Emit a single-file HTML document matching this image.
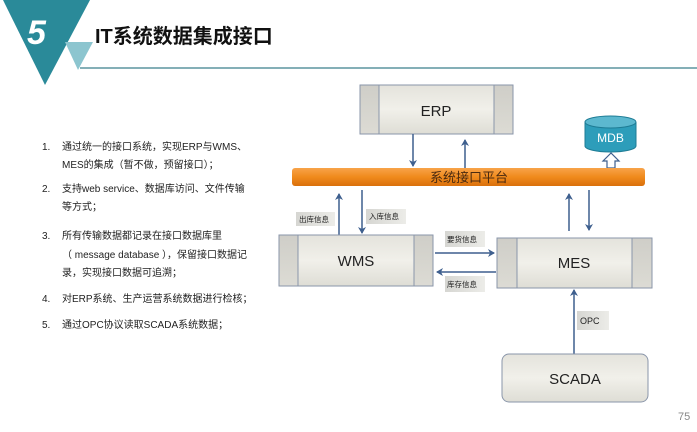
<!DOCTYPE html>
<html><head><meta charset="utf-8"><style>
html,body{margin:0;padding:0;background:#fff;}
svg text{font-family:"Liberation Sans","Noto Sans CJK SC",sans-serif;}
</style></head><body>
<svg width="697" height="427" viewBox="0 0 697 427" xmlns="http://www.w3.org/2000/svg">
<defs>
<linearGradient id="box" x1="0" y1="0" x2="0" y2="1"><stop offset="0" stop-color="#e4e3dc"/><stop offset="0.5" stop-color="#f1f0ea"/><stop offset="1" stop-color="#deddd5"/></linearGradient>
<linearGradient id="side" x1="0" y1="0" x2="0" y2="1"><stop offset="0" stop-color="#cfcec8"/><stop offset="1" stop-color="#dcdbd4"/></linearGradient>
<linearGradient id="bar" x1="0" y1="0" x2="0" y2="1"><stop offset="0" stop-color="#f8a34a"/><stop offset="0.5" stop-color="#f08a1c"/><stop offset="1" stop-color="#d9700c"/></linearGradient>
<linearGradient id="lbl" x1="0" y1="0" x2="1" y2="0"><stop offset="0" stop-color="#d6d6d2"/><stop offset="1" stop-color="#ecece8"/></linearGradient>
<marker id="ah" markerWidth="8" markerHeight="8" refX="6" refY="4" orient="auto" markerUnits="userSpaceOnUse"><path d="M0,0 L7,4 L0,8 L2,4 z" fill="#3e5f8e"/></marker>
</defs>
<polygon points="3,0 90,0 45,85" fill="#2a8a99"/>
<polygon points="65,42 93,42 78,70" fill="#8cc5cf"/>
<line x1="80" y1="68" x2="697" y2="68" stroke="#3a7f8c" stroke-width="1.2"/>
<text x="27" y="44" font-size="34" font-weight="bold" font-style="italic" fill="#fff">5</text>
<text x="95" y="43" font-size="20" font-weight="bold" fill="#111">IT系统数据集成接口</text>
<g font-size="10" fill="#222">
<text x="42" y="150">1.</text><text x="62" y="150">通过统一的接口系统，实现ERP与WMS、</text>
<text x="62" y="168">MES的集成（暂不做，预留接口）；</text>
<text x="42" y="192">2.</text><text x="62" y="192">支持web service、数据库访问、文件传输</text>
<text x="62" y="210">等方式；</text>
<text x="42" y="239">3.</text><text x="62" y="239">所有传输数据都记录在接口数据库里</text>
<text x="62" y="258">（ message database ），保留接口数据记</text>
<text x="62" y="276">录，实现接口数据可追溯；</text>
<text x="42" y="302">4.</text><text x="62" y="302">对ERP系统、生产运营系统数据进行检核；</text>
<text x="42" y="328">5.</text><text x="62" y="328">通过OPC协议读取SCADA系统数据；</text>
</g>
<rect x="360" y="85" width="153" height="49" fill="url(#box)" stroke="#8a96aa"/>
<rect x="360.5" y="85.5" width="18.5" height="48" fill="url(#side)"/>
<rect x="494" y="85.5" width="18.5" height="48" fill="url(#side)"/>
<line x1="379" y1="85" x2="379" y2="134" stroke="#8a96aa"/><line x1="494" y1="85" x2="494" y2="134" stroke="#8a96aa"/>
<text x="436" y="116" font-size="15" text-anchor="middle" fill="#222">ERP</text>
<path d="M585,122 L585,146 A25.5,6 0 0 0 636,146 L636,122" fill="#2d9dba" stroke="#1e7c95"/>
<ellipse cx="610.5" cy="122" rx="25.5" ry="6" fill="#5cb8cf" stroke="#1e7c95"/>
<text x="610.5" y="142" font-size="12" text-anchor="middle" fill="#fff">MDB</text>
<polygon points="611,153 603,161 607,161 607,168 615,168 615,161 619,161" fill="#fff" stroke="#3e5f8e" stroke-width="1.2"/>
<rect x="292" y="168" width="353" height="18" rx="3" fill="url(#bar)"/>
<text x="469" y="182" font-size="13" text-anchor="middle" fill="#4a2a10">系统接口平台</text>
<g stroke="#3e5f8e" stroke-width="1.5" marker-end="url(#ah)">
<line x1="413" y1="134" x2="413" y2="166"/>
<line x1="465" y1="168" x2="465" y2="140"/>
<line x1="339" y1="235" x2="339" y2="194"/>
<line x1="362" y1="190" x2="362" y2="233"/>
<line x1="569" y1="231" x2="569" y2="194"/>
<line x1="589" y1="190" x2="589" y2="230"/>
<line x1="435" y1="253" x2="494" y2="253"/>
<line x1="496" y1="272" x2="437" y2="272"/>
<line x1="574" y1="354" x2="574" y2="290"/>
</g>
<g font-size="7.5" fill="#222">
<rect x="296" y="212" width="39" height="14" fill="url(#lbl)"/><text x="299" y="222">出库信息</text>
<rect x="366" y="209" width="40" height="15" fill="url(#lbl)"/><text x="369" y="219">入库信息</text>
<rect x="445" y="231" width="40" height="16" fill="url(#lbl)"/><text x="447" y="242">要货信息</text>
<rect x="445" y="276" width="40" height="16" fill="url(#lbl)"/><text x="447" y="287">库存信息</text>
<rect x="577" y="311" width="32" height="19" fill="url(#lbl)"/><text x="580" y="324" font-size="9">OPC</text>
</g>
<rect x="279" y="235" width="154" height="51" fill="url(#box)" stroke="#8a96aa"/>
<rect x="279.5" y="235.5" width="18.5" height="50" fill="url(#side)"/>
<rect x="414" y="235.5" width="18.5" height="50" fill="url(#side)"/>
<line x1="298" y1="235" x2="298" y2="286" stroke="#8a96aa"/><line x1="414" y1="235" x2="414" y2="286" stroke="#8a96aa"/>
<text x="356" y="266" font-size="15" text-anchor="middle" fill="#222">WMS</text>
<rect x="497" y="238" width="155" height="50" fill="url(#box)" stroke="#8a96aa"/>
<rect x="497.5" y="238.5" width="19" height="49" fill="url(#side)"/>
<rect x="632" y="238.5" width="19.5" height="49" fill="url(#side)"/>
<line x1="517" y1="238" x2="517" y2="288" stroke="#8a96aa"/><line x1="632" y1="238" x2="632" y2="288" stroke="#8a96aa"/>
<text x="574" y="268" font-size="15" text-anchor="middle" fill="#222">MES</text>
<rect x="502" y="354" width="146" height="48" rx="7" fill="url(#box)" stroke="#8a96aa"/>
<text x="575" y="384" font-size="15" text-anchor="middle" fill="#222">SCADA</text>
<text x="678" y="420" font-size="11" fill="#888">75</text>
</svg>
</body></html>
